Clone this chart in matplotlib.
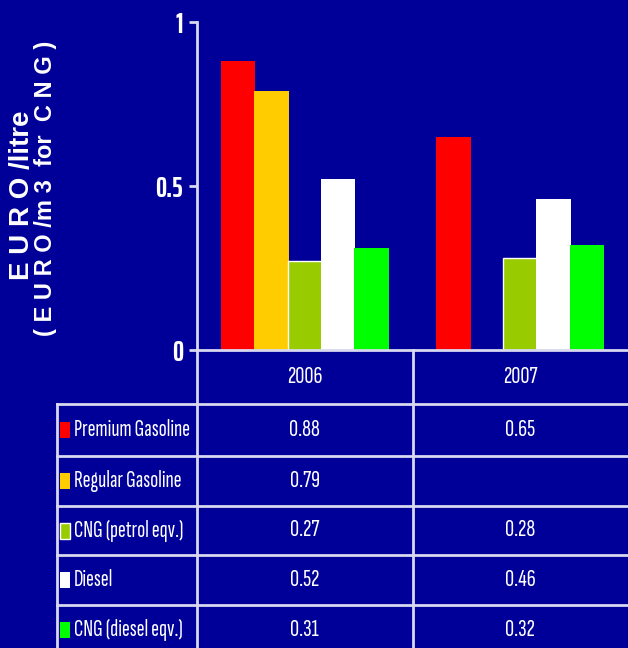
import numpy as np
import matplotlib
matplotlib.use('Agg')
import matplotlib.pyplot as plt
import matplotlib.transforms as mtransforms
from matplotlib.lines import Line2D
from matplotlib.patches import Rectangle

years = ['2006', '2007']
series = ['Premium Gasoline', 'Regular Gasoline', 'CNG (petrol eqv.)', 'Diesel', 'CNG (diesel eqv.)']
premium = [0.88, 0.65]
regular = [0.79, np.nan]
cng_petrol = [0.27, 0.28]
diesel = [0.52, 0.46]
cng_diesel = [0.31, 0.32]
colors = ['#ff0000', '#ffcc00', '#99cc00', '#ffffff', '#00ff00']
yticks = [0, 0.5, 1]
ytick_labels = ['0', '0.5', '1']
ylabel1 = 'E U R O /litre'
ylabel2 = '( E U R O /m 3  for  C N G )'

BG = '#000099'
LINE = '#d8d8f0'
W, H = 628, 648
NARROW = ['Sofia Sans Extra Condensed', 'DejaVu Sans']
BOLDNARROW = ['Saira ExtraCondensed', 'Sofia Sans Extra Condensed', 'DejaVu Sans']
LABEL = ['Liberation Sans', 'DejaVu Sans']
plt.rcParams['font.family'] = NARROW

def fx(px):
    return px / W

def fy(py):
    return 1 - py / H

fig = plt.figure(figsize=(W / 100, H / 100), dpi=100, facecolor=BG)
ax = fig.add_axes([fx(197), fy(350), fx(628) - fx(197), fy(22) - fy(350)])
ax.set_facecolor(BG)

x = np.arange(len(years))
values = [premium, regular, cng_petrol, diesel, cng_diesel]
for i, (vals, c) in enumerate(zip(values, colors)):
    ax.bar(x + (i - 2) * 0.155, vals, width=0.16, color=c,
           edgecolor='white' if i == 2 else c, linewidth=1 if i == 2 else 0, zorder=2)

ax.set_xlim(-0.5, 1.5)
ax.set_ylim(0, 1)
ax.set_yticks(yticks)
ax.set_yticklabels(ytick_labels, fontsize=20, fontweight='bold', color='white',
                   family=BOLDNARROW)
ax.set_xticks([])
for s in ['top', 'right']:
    ax.spines[s].set_visible(False)
ax.spines['left'].set_color(LINE)
ax.spines['left'].set_linewidth(2)
ax.spines['bottom'].set_color(LINE)
ax.spines['bottom'].set_linewidth(2)
ax.spines['bottom'].set_zorder(3)
ax.tick_params(axis='y', colors=LINE, length=6, width=2, pad=4, labelcolor='white')

# y label, two overlapping rotated lines
fig.text(fx(22), fy(195), ylabel1, rotation=90, ha='center', va='center',
         color='white', fontsize=20, fontweight='bold', family=LABEL)
fig.text(fx(46), fy(188), ylabel2, rotation=90, ha='center', va='center',
         color='white', fontsize=17, fontweight='bold', family=LABEL)

# data table under the axis
row_edges = [350, 404, 456, 506, 555, 605, 655]
for yy in row_edges[1:-1]:
    fig.add_artist(Line2D([fx(57), 1], [fy(yy), fy(yy)], color=LINE, lw=2))
fig.add_artist(Line2D([fx(57), fx(57)], [fy(404), 0], color=LINE, lw=2))
fig.add_artist(Line2D([fx(197), fx(197)], [fy(350), 0], color=LINE, lw=2))
fig.add_artist(Line2D([fx(413), fx(413)], [fy(350), 0], color=LINE, lw=2))

trans = mtransforms.blended_transform_factory(ax.transData, fig.transFigure)
for j, yr in enumerate(years):
    fig.text(x[j], fy((row_edges[0] + row_edges[1]) / 2), yr, transform=trans,
             ha='center', va='center', color='white', fontsize=18)

for i, (name, vals, c) in enumerate(zip(series, values, colors)):
    yc = fy((row_edges[i + 1] + row_edges[i + 2]) / 2)
    fig.add_artist(Rectangle((fx(60), yc - 8 / H), 10 / W, 16 / H, facecolor=c,
                             edgecolor='white', lw=1 if i == 2 else 0))
    fig.text(fx(74), yc, name, ha='left', va='center', color='white', fontsize=17)
    for j, v in enumerate(vals):
        if not np.isnan(v):
            fig.text(x[j], yc, f'{v:.2f}', transform=trans, ha='center', va='center',
                     color='white', fontsize=18)

fig.savefig('out.png', dpi=100, facecolor=BG)
